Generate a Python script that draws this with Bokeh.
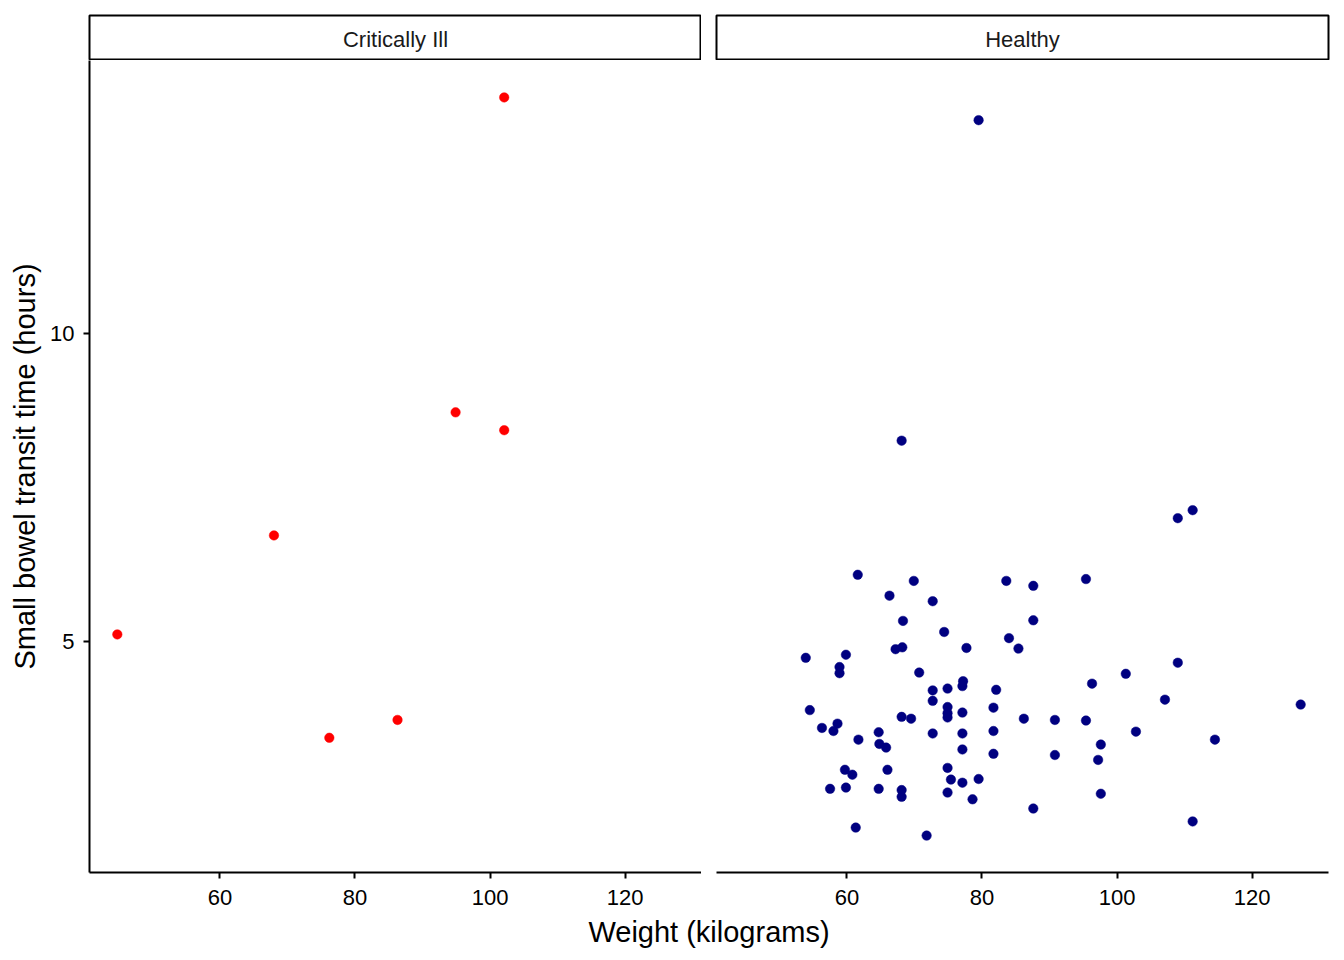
from bokeh.plotting import figure
from bokeh.layouts import column, row
from bokeh.models import Range1d, FixedTicker
from bokeh.core.properties import value
from bokeh.embed import file_html
from bokeh.resources import INLINE

# ---------------- data ----------------
panel_labels = ["Critically Ill", "Healthy"]

crit_weight = [44.8, 68.0, 76.2, 86.3, 94.9, 102.1, 102.1]
crit_transit = [5.11, 6.72, 3.43, 3.72, 8.72, 8.43, 13.84]

healthy_weight = [
    79.5, 68.1,
    61.6, 69.9, 83.6, 87.6, 66.3, 72.7, 87.6, 68.3, 74.4, 84.0,
    67.2, 68.2, 77.7, 85.4, 53.9, 59.85, 58.9, 58.9, 70.7, 77.2,
    77.1, 72.7, 74.9, 82.1, 72.7, 74.9, 74.9, 74.9, 77.1, 81.7,
    86.2, 54.5, 68.1, 69.5, 56.3, 58.6, 58.0, 64.7, 72.7, 77.1,
    81.7, 61.7, 64.8, 65.8, 77.1, 81.7, 59.7, 60.8, 66.0, 74.9,
    75.4, 77.1, 79.5, 57.5, 59.85, 64.7, 68.1, 68.1, 74.9, 78.6,
    87.6, 61.3, 71.8,
    111.2, 109.0, 95.4, 109.0, 101.3, 96.3, 107.1, 127.2, 90.8, 95.4,
    102.8, 97.6, 114.5, 90.8, 97.2, 97.6, 111.2,
]
healthy_transit = [
    13.47, 8.26,
    6.08, 5.98, 5.98, 5.90, 5.74, 5.65, 5.34, 5.33, 5.15, 5.05,
    4.87, 4.90, 4.89, 4.88, 4.73, 4.78, 4.58, 4.48, 4.49, 4.35,
    4.27, 4.20, 4.23, 4.21, 4.03, 3.93, 3.83, 3.76, 3.84, 3.92,
    3.74, 3.88, 3.77, 3.74, 3.59, 3.66, 3.54, 3.52, 3.50, 3.50,
    3.54, 3.40, 3.33, 3.27, 3.24, 3.17, 2.91, 2.83, 2.91, 2.94,
    2.75, 2.70, 2.76, 2.60, 2.62, 2.60, 2.58, 2.47, 2.54, 2.43,
    2.28, 1.97, 1.84,
    7.13, 7.00, 6.01, 4.65, 4.47, 4.31, 4.05, 3.97, 3.72, 3.71,
    3.53, 3.32, 3.40, 3.15, 3.07, 2.52, 2.07,
]

x_ticks = [60, 80, 100, 120]
y_ticks = [5, 10]
x_title = "Weight (kilograms)"
y_title = "Small bowel transit time (hours)"

# ---------------- scales (ggplot-like 5% expansion) ----------------
all_x = crit_weight + healthy_weight
all_y = crit_transit + healthy_transit
ex = (max(all_x) - min(all_x)) * 0.05
ey = (max(all_y) - min(all_y)) * 0.05
xr = Range1d(min(all_x) - ex, max(all_x) + ex)
yr = Range1d(min(all_y) - ey, max(all_y) + ey)

FONT = "Liberation Sans"
TICK_PX = "22px"
TITLE_PX = "29px"
FRAME_W = 612
FRAME_H = 812
LEFT = 89      # space left of the first panel
GAP = 15       # space between panels
RIGHT = 16     # space right of the second panel
TOP = 15       # space above strips
BOTTOM = 45    # tick label area under panels


def style_axis(ax):
    ax.axis_line_color = "black"
    ax.axis_line_width = 2
    ax.major_tick_line_color = "black"
    ax.major_tick_line_width = 2
    ax.major_tick_out = 6
    ax.major_tick_in = 0
    ax.minor_tick_line_color = None
    ax.major_label_text_font = FONT
    ax.major_label_text_font_size = TICK_PX
    ax.major_label_text_color = "black"


def panel(xs, ys, color, left, right, with_y):
    p = figure(width=left + FRAME_W + right, height=FRAME_H + BOTTOM,
               x_range=xr, y_range=yr, output_backend="svg",
               toolbar_location=None,
               y_axis_location="left" if with_y else None,
               min_border_left=left, min_border_right=right,
               min_border_top=0, min_border_bottom=BOTTOM)
    p.outline_line_color = None
    p.grid.visible = False
    p.background_fill_color = "white"
    p.border_fill_color = "white"
    p.xaxis.ticker = FixedTicker(ticks=x_ticks)
    p.xaxis.major_label_standoff = 11
    style_axis(p.xaxis[0])
    if with_y:
        p.yaxis.ticker = FixedTicker(ticks=y_ticks)
        style_axis(p.yaxis[0])
        p.yaxis.major_label_standoff = 9
        p.yaxis.axis_label = y_title
        p.yaxis.axis_label_text_font = FONT
        p.yaxis.axis_label_text_font_size = TITLE_PX
        p.yaxis.axis_label_text_font_style = "normal"
        p.yaxis.axis_label_text_color = "black"
        p.yaxis.axis_label_standoff = 6
    p.scatter(xs, ys, size=9.5, fill_color=color, line_color=color,
              line_width=0.5)
    return p


def strip(label, left, right):
    s = figure(width=left + FRAME_W + right, height=TOP + 45,
               x_range=Range1d(0, 1), y_range=Range1d(0, 1),
               output_backend="svg", toolbar_location=None,
               x_axis_location=None, y_axis_location=None,
               min_border_left=left, min_border_right=right,
               min_border_top=TOP, min_border_bottom=1)
    s.grid.visible = False
    s.outline_line_color = "black"
    s.outline_line_width = 2
    s.text(x=[0.5], y=[0.46], text=[label], text_align="center",
           text_baseline="middle", text_font=value(FONT),
           text_font_size=TICK_PX, text_color="#1a1a1a")
    return s


p1 = panel(crit_weight, crit_transit, "#ff0000", LEFT, 0, True)
p2 = panel(healthy_weight, healthy_transit, "#000080", GAP, RIGHT, False)
s1 = strip(panel_labels[0], LEFT, 0)
s2 = strip(panel_labels[1], GAP, RIGHT)

tw = LEFT + FRAME_W + GAP + FRAME_W + RIGHT
th = 960 - (TOP + 45) - (FRAME_H + BOTTOM)
t = figure(width=tw, height=th, x_range=Range1d(0, tw), y_range=Range1d(0, th),
           output_backend="svg", toolbar_location=None,
           x_axis_location=None, y_axis_location=None,
           min_border_left=0, min_border_right=0,
           min_border_top=0, min_border_bottom=0)
t.grid.visible = False
t.outline_line_color = None
t.text(x=[(LEFT + LEFT + GAP + 2 * FRAME_W) / 2], y=[th - 14], text=[x_title],
       text_align="center", text_baseline="middle", text_font=value(FONT),
       text_font_size=TITLE_PX, text_color="black")

layout = column(row(s1, s2), row(p1, p2), t)
open("out.html", "w").write(file_html(layout, INLINE))
